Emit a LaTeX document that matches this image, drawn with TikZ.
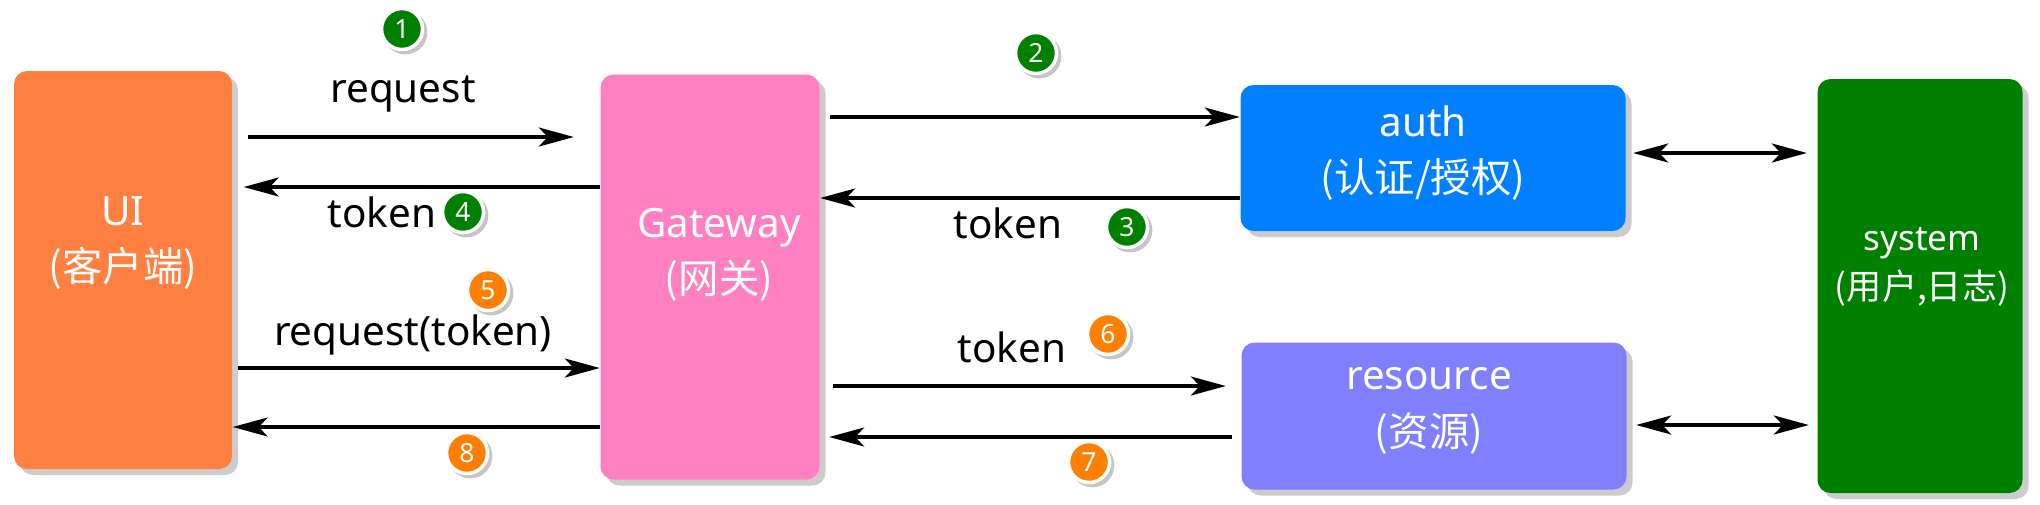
\documentclass[tikz,border=0pt]{standalone}
\usepackage{fontspec}
\setmainfont{Noto Sans}
\newfontfamily\cjk{Noto Sans CJK SC}
\usepackage{tikz}
\usetikzlibrary{arrows.meta,shadows}
\definecolor{uiorange}{RGB}{255,128,64}
\definecolor{gwpink}{RGB}{255,128,192}
\definecolor{authblue}{RGB}{0,128,255}
\definecolor{reslilac}{RGB}{128,128,255}
\definecolor{sysgreen}{RGB}{0,128,0}
\definecolor{stepgreen}{RGB}{0,128,0}
\definecolor{steporange}{RGB}{255,128,0}

\begin{document}
\begin{tikzpicture}[x=0.1mm,y=-0.1mm,
    >={Stealth[length=3.5mm,width=1.9mm,inset=0.9mm]},
    box/.style={rounded corners=1.3mm,inner sep=0,
                drop shadow={shadow xshift=0.6mm,shadow yshift=-0.6mm,opacity=0.4}},
    boxtext/.style={text=white,align=center,font=\fontsize{11.5}{16}\selectfont},
    msg/.style={font=\fontsize{11.5}{14}\selectfont,anchor=base,inner sep=0},
    arr/.style={line width=0.9pt,->},
    dbl/.style={line width=0.9pt,<->},
    num/.style={circle,draw=white,line width=1pt,minimum size=4.1mm,inner sep=0,
                text=white,font=\fontsize{7.5}{7.5}\selectfont\bfseries,
                drop shadow={shadow xshift=0.3mm,shadow yshift=-0.3mm,
                             shadow scale=1.08,opacity=0.45}}]
  \useasboundingbox (0,0) rectangle (2040,504);

  % boxes
  \node[box,fill=uiorange,minimum width=21.8mm,minimum height=39.8mm] (ui) at (123,270) {};
  \node[box,fill=gwpink,minimum width=21.9mm,minimum height=40.5mm] (gw) at (710,277) {};
  \node[box,fill=authblue,minimum width=38.5mm,minimum height=14.6mm] (auth) at (1433,158) {};
  \node[box,fill=reslilac,minimum width=38.5mm,minimum height=14.7mm] (res) at (1434,416) {};
  \node[box,fill=sysgreen,minimum width=20.5mm,minimum height=41.4mm] (sys) at (1920,286) {};

  \node[boxtext] (ui-txt) at (123,243) {UI\\{\cjk (客户端)}};
  \node[boxtext] (gw-txt) at (719,255) {Gateway\\{\cjk (网关)}};
  \node[boxtext] (auth-txt) at (1423,153) {auth\\{\cjk (认证/授权)}};
  \node[boxtext] (res-txt) at (1429,411) {resource\\{\cjk (资源)}};
  \node[boxtext,font=\fontsize{10}{14}\selectfont] (sys-txt) at (1922,267) {system\\{\cjk (用户,日志)}};

  % messages
  \draw[arr] ([xshift=1.5mm]ui.east |- 0,137) -- ([xshift=-2.6mm]gw.west |- 0,137);
  \draw[arr] (gw.west |- 0,187) -- ([xshift=1.1mm]ui.east |- 0,187);
  \draw[arr] ([xshift=0.5mm]ui.east |- 0,368) -- (gw.west |- 0,368);
  \draw[arr] (gw.west |- 0,427) -- (ui.east |- 0,427);
  \draw[arr] ([xshift=1mm]gw.east |- 0,117) -- (auth.west |- 0,117);
  \draw[arr] (auth.west |- 0,198) -- (gw.east |- 0,198);
  \draw[arr] ([xshift=1.3mm]gw.east |- 0,386) -- ([xshift=-1.5mm]res.west |- 0,386);
  \draw[arr] ([xshift=-0.9mm]res.west |- 0,437) -- ([xshift=0.9mm]gw.east |- 0,437);
  \draw[dbl] ([xshift=0.7mm]auth.east |- 0,153) -- ([xshift=-1mm]sys.west |- 0,153);
  \draw[dbl] ([xshift=0.9mm]res.east |- 0,425) -- ([xshift=-0.8mm]sys.west |- 0,425);

  \node[msg] (req-lbl) at (403,102) {request};
  \node[msg] (tok4-lbl) at (382,227) {token};
  \node[msg] (reqtok-lbl) at (413,345) {request(token)};
  \node[msg] (tok3-lbl) at (1008,238) {token};
  \node[msg] (tok6-lbl) at (1012,362) {token};

  % step numbers
  \foreach \n/\x/\y/\c in {1/402/29/stepgreen,2/1036/53/stepgreen,
      3/1127/227/stepgreen,4/463/212/stepgreen,5/488/290/steporange,
      6/1108/334/steporange,7/1089/462/steporange,8/467/453/steporange}
    \node[num,fill=\c] (n\n) at (\x,\y) {\n};
\end{tikzpicture}
\end{document}
